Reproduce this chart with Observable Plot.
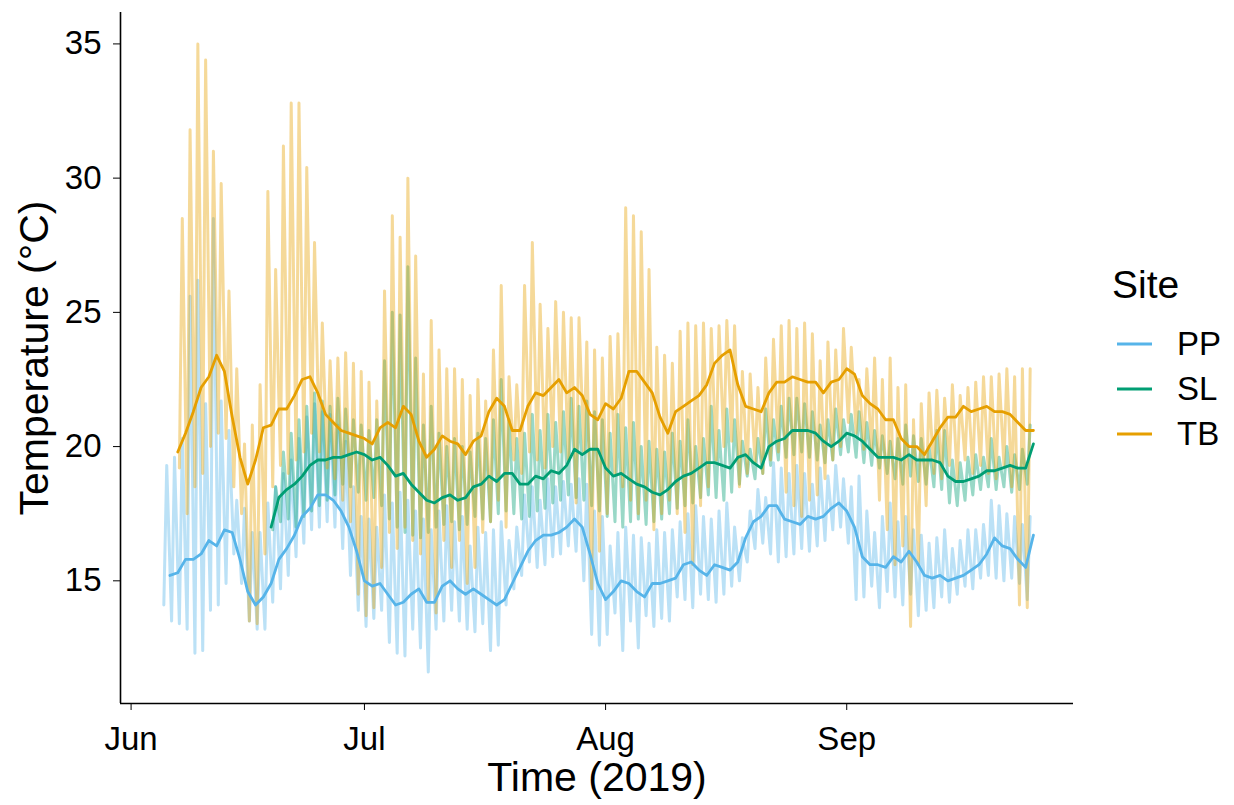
<!DOCTYPE html>
<html>
<head>
<meta charset="utf-8">
<script src="https://cdn.jsdelivr.net/npm/d3@7"></script>
<script src="https://cdn.jsdelivr.net/npm/@observablehq/plot@0.6"></script>
<style>
  body { margin: 0; background: #fff; }
  #wrap { display: flex; width: 1234px; height: 805px; font-family: "Liberation Sans", Arial, Helvetica, sans-serif; color: #000; }
  #legend { margin-left: 22px; padding-top: 265px; }
  .ltitle { font-size: 39px; line-height: 39px; }
  .rows { margin-top: 17px; }
  .row { display: flex; align-items: center; height: 45px; font-size: 33px; line-height: 45px; }
  .row svg { margin-left: 5px; margin-right: 25px; }
  #chart svg g[aria-label="x-axis label"], #chart svg g[aria-label="y-axis label"] { font-size: 41px; }
</style>
</head>
<body>
<div id="wrap"><div id="chart"></div><div id="legend"></div></div>
<script>
// ---------------- data ----------------
const sites = ["PP", "SL", "TB"];
const colors = ["#56B4E9", "#009E73", "#E69F00"];
const legendTitle = "Site";
const xLabel = "Time (2019)";
const yLabel = "Temperature (°C)";
const monthTicks = ["2019-06-01", "2019-07-01", "2019-08-01", "2019-09-01"];
const yTicks = [15, 20, 25, 30, 35];
const lowHour = 5;    // time of the daily minimum reading
const highHour = 14;  // time of the daily maximum reading

// raw logger readings: daily minimum and maximum, one value per day from the start date
const ppRawStart = "2019-06-05";
const ppLow = [14.1, 13.5, 13.4, 13.2, 12.3, 12.4, 13.9, 14.1, 14.9, 16.0, 14.9, 13.5, 13.2, 13.2,
  14.2, 14.7, 15.2, 15.9, 16.4, 16.9, 17.0, 17.2, 17.0, 16.2, 15.2, 13.9, 13.3,
  13.6, 13.9, 12.7, 12.3, 12.2, 13.2, 12.5, 11.6, 13.2, 13.5, 13.9, 13.5, 13.2, 13.1, 13.4,
  12.4, 12.6, 14.1, 14.7, 15.2, 15.7, 15.5, 15.6, 15.9, 16.0, 16.3, 16.1, 15.0, 13.0, 12.6, 13.0, 13.8, 12.4, 13.5, 12.5, 13.7, 13.3, 13.6, 13.5, 14.4, 14.3,
  14.0, 14.5, 14.3, 14.2, 14.5, 14.8, 15.0, 15.7, 16.2, 16.4, 16.0, 15.7, 15.9, 16.0, 16.2, 16.1, 16.3, 16.5, 16.9, 17.0, 16.4, 14.3,
  14.4, 14.8, 14.0, 14.6, 14.4, 14.1, 14.5, 13.7, 13.9, 14.0, 14.4, 14.2, 14.5, 14.8, 14.7, 15.1, 15.2, 15.1, 15.0, 15.1, 14.9, 14.3];
const ppHigh = [19.3, 19.6, 20.3, 25.6, 26.2, 21.6, 28.5, 21.7, 20.6, 18.0, 17.7, 16.8, 16.8, 17.9,
  18.5, 19.0, 19.5, 20.3, 21.1, 21.6, 21.3, 21.2, 20.8, 20.2, 18.5, 17.4, 17.3,
  17.0, 18.2, 17.9, 18.3, 18.0, 17.6, 17.3, 16.9, 17.6, 17.8, 17.2, 17.4, 16.3, 17.0, 16.8,
  16.9, 17.2, 16.5, 17.0, 18.2, 18.5, 18.0, 18.8, 18.5, 18.7, 18.6, 18.8, 18.6, 17.6, 17.4, 16.3, 16.8, 17.0, 16.7, 16.6, 16.4, 16.9, 16.8, 16.9, 17.2, 17.5,
  17.8, 17.4, 17.3, 17.6, 17.9, 17.0, 16.6, 17.6, 18.4, 18.1, 19.4, 19.2, 19.0, 19.3, 19.0, 18.6, 19.2, 18.9, 19.3, 18.8, 18.5, 18.9,
  17.6, 16.8, 17.4, 17.9, 17.2, 17.4, 16.9, 16.7, 16.4, 16.6, 16.9, 16.2, 16.5, 16.9, 16.9, 17.1, 18.0, 17.8, 17.5, 17.4, 17.1, 17.4];

const slRawStart = "2019-06-19";
const slLow = [16.9, 17.2, 17.3, 17.0, 17.4, 17.6, 17.8, 18.0, 18.2, 18.6, 18.5, 18.3, 18.0, 18.1, 17.8, 17.3, 17.0, 16.8, 16.7, 16.6, 16.8, 17.0, 17.1, 17.2, 16.9, 17.1, 17.4, 17.3, 17.2, 17.5, 17.6,
  17.5, 17.3, 17.4, 17.6, 17.7, 17.9, 18.0, 18.2, 18.1, 18.0, 17.8, 17.6, 17.4, 17.2, 17.0, 17.2, 17.3, 17.1, 17.2, 17.3, 17.5, 17.7, 17.8,
  17.9, 18.1, 18.2, 18.1, 18.0, 18.3, 18.6, 18.9, 18.8, 19.0, 19.3, 19.5, 19.6, 19.7, 19.8, 19.6, 19.5, 19.4, 19.5, 19.7, 19.8, 19.6,
  19.4, 19.3, 19.2, 19.0, 18.8, 18.6, 18.9, 18.7, 18.6, 18.5, 18.4, 17.9, 17.8, 18.0, 18.2, 18.4, 18.5, 18.4, 18.5, 18.3, 18.4, 18.6];
const slHigh = [18.5, 19.8, 20.5, 21.0, 21.5, 22.0, 21.7, 21.5, 21.8, 21.4, 21.0, 20.8, 20.6, 21.0, 23.2, 25.0, 24.9, 26.7, 23.3, 20.8, 21.5, 20.5, 20.0, 20.3, 20.0, 19.8, 20.5, 20.3, 21.0, 22.5, 21.0,
  20.3, 20.5, 21.2, 20.6, 21.2, 20.9, 21.3, 21.8, 21.5, 21.7, 21.3, 21.0, 20.5, 21.2, 20.7, 20.9, 20.0, 20.2, 19.9, 19.8, 20.5, 20.2, 21.0,
  20.0, 20.3, 21.5, 20.6, 21.4, 21.0, 20.2, 19.9, 20.3, 21.4, 21.0, 21.5, 21.8, 21.8, 21.6, 21.3, 20.8, 21.0, 21.4, 21.0, 21.2, 21.3,
  20.9, 20.6, 20.4, 20.2, 20.3, 20.8, 20.4, 20.3, 20.0, 20.6, 20.6, 19.5, 19.4, 19.6, 19.7, 19.6, 20.3, 19.6, 20.0, 19.7, 19.9, 20.8];

const tbRawStart = "2019-06-07";
const tbLow = [19.2, 17.5, 18.5, 19.0, 20.0, 20.5, 20.3, 18.5, 17.5, 13.5, 13.4, 16.0, 18.5, 19.3, 19.0, 19.5, 19.8, 20.5, 19.8, 19.2,
  18.8, 18.0, 17.2, 14.5, 13.7, 14.0, 15.5, 16.8, 16.2, 17.0, 16.5, 16.0, 14.2, 13.8, 16.5, 15.5, 16.5, 14.9, 15.5, 16.8, 17.2, 18.0, 17.0,
  19.5, 19.0, 19.8, 19.5, 19.2, 20.0, 19.8, 19.5, 17.9, 19.8, 14.7, 16.1, 17.5, 19.0, 18.5, 18.0, 17.5, 18.0, 16.9, 17.5, 18.0, 17.5, 16.8,
  15.6, 17.8, 18.5, 19.5, 20.0, 20.2, 18.5, 19.0, 19.4, 19.0, 19.5, 19.8, 18.3, 17.8, 17.4, 18.0, 18.2, 18.8, 19.5, 20.0, 20.9, 20.5,
  19.9, 19.8, 18.0, 16.9, 15.6, 16.3, 13.3, 15.6, 17.8, 19.0, 18.8, 19.3, 18.8, 19.5, 19.0, 19.3, 19.0, 18.8, 19.3, 18.5, 14.1, 14.0];
const tbHigh = [28.5, 31.8, 35.0, 34.4, 31.0, 29.8, 25.8, 22.9, 20.1, 20.8, 22.3, 29.5, 26.6, 31.2, 32.8, 32.8, 30.4, 27.6, 24.6, 23.2,
  23.3, 23.5, 23.1, 22.8, 22.4, 21.7, 25.8, 28.6, 27.8, 30.0, 27.1, 22.7, 24.7, 23.6, 22.9, 22.9, 22.5, 21.9, 22.5, 21.7, 23.6, 26.0, 22.6,
  22.3, 26.0, 27.6, 25.3, 24.4, 25.4, 25.0, 24.8, 24.8, 23.9, 23.6, 23.3, 24.1, 24.2, 28.9, 28.6, 28.0, 26.6, 23.7, 23.4, 23.1, 24.3, 24.6,
  24.5, 24.6, 24.4, 24.5, 24.7, 24.5, 22.8, 22.7, 22.2, 23.3, 24.0, 24.5, 24.7, 24.4, 24.6, 24.2, 23.2, 23.9, 23.6, 24.4, 23.7, 22.5,
  22.9, 23.3, 22.5, 23.3, 22.2, 22.3, 21.0, 21.6, 22.0, 22.1, 21.8, 22.3, 21.9, 22.2, 22.4, 22.6, 22.6, 22.7, 22.9, 22.6, 22.9, 22.9];

// smoothed (daily running mean), one value per day from the start date
const ppSmoothStart = "2019-06-06";
const ppSmooth = [15.2, 15.3, 15.8, 15.8, 16.0, 16.5, 16.3, 16.9, 16.8, 15.8, 14.6, 14.1, 14.4, 14.9, 15.8, 16.2, 16.7, 17.4, 17.7, 18.2, 18.2, 18.0, 17.6, 17.0, 16.1,
  15.0, 14.8, 14.9, 14.5, 14.1, 14.2, 14.5, 14.7, 14.2, 14.2, 14.8, 15.0, 14.7, 14.5, 14.7, 14.5, 14.3, 14.1, 14.3, 14.9, 15.5, 16.1, 16.5, 16.7, 16.7, 16.8, 17.0, 17.3, 17.0, 16.0, 14.9,
  14.3, 14.6, 15.0, 14.9, 14.6, 14.4, 14.9, 14.9, 15.0, 15.1, 15.6, 15.7, 15.4, 15.2, 15.6, 15.5, 15.4, 15.7, 16.6, 17.2, 17.4, 17.8, 17.8, 17.3, 17.2, 17.1, 17.4, 17.3, 17.4, 17.7, 17.9,
  17.6, 17.0, 15.9, 15.6, 15.6, 15.5, 15.9, 15.7, 16.1, 15.7, 15.2, 15.1, 15.2, 15.0, 15.1, 15.2, 15.4, 15.6, 16.0, 16.6, 16.3, 16.2, 15.8, 15.5, 16.7];
const slSmoothStart = "2019-06-19";
const slSmooth = [17.0, 18.1, 18.4, 18.6, 18.9, 19.3, 19.5, 19.5, 19.6, 19.6, 19.7, 19.8,
  19.7, 19.5, 19.6, 19.3, 18.9, 19.0, 18.6, 18.3, 18.0, 17.9, 18.1, 18.2, 18.0, 18.1, 18.5, 18.6, 18.9, 18.7, 19.0, 19.0, 18.6, 18.6, 18.9, 18.8, 19.1, 19.0, 19.3, 19.9, 19.7, 19.9, 19.9,
  19.2, 18.9, 19.0, 18.8, 18.6, 18.5, 18.3, 18.2, 18.4, 18.7, 18.9, 19.0, 19.2, 19.4, 19.4, 19.3, 19.2, 19.6, 19.7, 19.4, 19.2, 20.0, 20.2, 20.3, 20.6, 20.6, 20.6, 20.5, 20.2, 20.0, 20.2,
  20.5, 20.4, 20.2, 19.9, 19.6, 19.6, 19.6, 19.5, 19.7, 19.5, 19.5, 19.5, 19.4, 18.9, 18.7, 18.7, 18.8, 18.9, 19.1, 19.1, 19.2, 19.3, 19.2, 19.2, 20.1];
const tbSmoothStart = "2019-06-07";
const tbSmooth = [19.8, 20.5, 21.3, 22.2, 22.6, 23.4, 22.8, 21.1, 19.6, 18.6, 19.5, 20.7, 20.8, 21.4, 21.4, 21.9, 22.5, 22.6, 22.0, 21.2, 20.9, 20.6, 20.5, 20.4,
  20.3, 20.1, 20.7, 20.9, 20.7, 21.5, 21.2, 20.2, 19.6, 19.9, 20.4, 20.2, 20.1, 19.7, 20.2, 20.4, 21.3, 21.8, 21.5, 20.6, 20.6, 21.5, 22.0, 21.9, 22.2, 22.5, 22.0, 22.2, 21.9, 21.2, 21.0,
  21.6, 21.4, 21.8, 22.8, 22.8, 22.4, 22.0, 21.1, 20.5, 21.3, 21.5, 21.7, 21.9, 22.3, 23.1, 23.4, 23.6, 22.3, 21.5, 21.4, 21.3, 22.0, 22.4, 22.4, 22.6, 22.5, 22.4, 22.4, 22.0, 22.4, 22.5,
  22.9, 22.7, 21.9, 21.6, 21.4, 21.0, 21.0, 20.3, 20.0, 20.0, 19.7, 20.2, 20.7, 21.1, 21.1, 21.5, 21.3, 21.4, 21.5, 21.3, 21.3, 21.2, 20.9, 20.6, 20.6];

// ---------------- assemble ----------------
const DAY = 864e5, HOUR = 36e5;
const utc = s => Date.parse(s + "T00:00:00Z");
function rawSeries(site, start, lows, highs) {
  const t0 = utc(start), out = [];
  lows.forEach((lo, i) => {
    out.push({site, time: new Date(t0 + i * DAY + lowHour * HOUR), temp: lo});
    out.push({site, time: new Date(t0 + i * DAY + highHour * HOUR), temp: highs[i]});
  });
  return out;
}
function smoothSeries(site, start, values) {
  const t0 = utc(start);
  return values.map((v, i) => ({site, time: new Date(t0 + i * DAY), temp: v}));
}
const raw = [
  ...rawSeries("PP", ppRawStart, ppLow, ppHigh),
  ...rawSeries("SL", slRawStart, slLow, slHigh),
  ...rawSeries("TB", tbRawStart, tbLow, tbHigh)
];
const smooth = [
  ...smoothSeries("PP", ppSmoothStart, ppSmooth),
  ...smoothSeries("SL", slSmoothStart, slSmooth),
  ...smoothSeries("TB", tbSmoothStart, tbSmooth)
];

// ggplot-like 5% expansion of the data range
const [tmin, tmax] = d3.extent(raw, d => d.time);
const tpad = (tmax - tmin) * 0.05;
const xDomain = [new Date(+tmin - tpad), new Date(+tmax + tpad)];
const [vmin, vmax] = d3.extent(raw, d => d.temp);
const vpad = (vmax - vmin) * 0.05;
const yDomain = [vmin - vpad, vmax + vpad];

const chart = Plot.plot({
  width: 1090,
  height: 805,
  marginLeft: 120,
  marginRight: 17,
  marginTop: 12,
  marginBottom: 102,
  style: {fontFamily: '"Liberation Sans", Arial, Helvetica, sans-serif', fontSize: "33px", color: "#000", background: "#fff", overflow: "visible"},
  x: {type: "utc", domain: xDomain},
  y: {domain: yDomain},
  color: {domain: sites, range: colors},
  marks: [
    Plot.line(raw, {x: "time", y: "temp", z: "site", stroke: "site", strokeOpacity: 0.4, strokeWidth: 3, curve: "linear"}),
    Plot.line(smooth, {x: "time", y: "temp", z: "site", stroke: "site", strokeWidth: 2.8, curve: "linear"}),
    Plot.ruleX([xDomain[0]], {stroke: "#000", strokeWidth: 1.6}),
    Plot.ruleY([yDomain[0]], {stroke: "#000", strokeWidth: 1.6}),
    Plot.axisX(monthTicks.map(utc).map(t => new Date(t)), {
      tickFormat: d3.utcFormat("%b"), tickSize: 7, tickPadding: 16, fontSize: 33,
      label: xLabel, labelAnchor: "center", labelOffset: 87, labelArrow: "none"
    }),
    Plot.axisY(yTicks, {
      tickSize: 7, tickPadding: 12, fontSize: 33,
      label: yLabel, labelAnchor: "center", labelOffset: 102, labelArrow: "none"
    })
  ]
});
document.getElementById("chart").appendChild(chart);

// legend
const legend = document.getElementById("legend");
const title = document.createElement("div");
title.className = "ltitle";
title.textContent = legendTitle;
legend.appendChild(title);
const rows = document.createElement("div");
rows.className = "rows";
sites.forEach((s, i) => {
  const row = document.createElement("div");
  row.className = "row";
  row.innerHTML = `<svg width="35" height="6"><line x1="0" x2="35" y1="3" y2="3" stroke="${colors[i]}" stroke-width="3"/></svg><span>${s}</span>`;
  rows.appendChild(row);
});
legend.appendChild(rows);
</script>
</body>
</html>
